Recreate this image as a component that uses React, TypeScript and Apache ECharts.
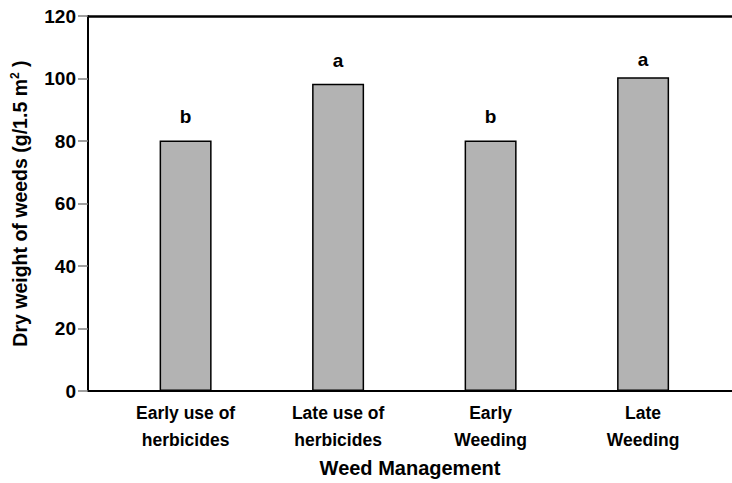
import React, { useEffect, useRef } from "react";
import * as echarts from "echarts";

const categories = ["Early use of\nherbicides", "Late use of\nherbicides", "Early\nWeeding", "Late\nWeeding"];
const positions = [1, 2, 3, 4];
const dryWeight = [80.2, 98.3, 80.2, 100.4];
const letters = ["b", "a", "b", "a"];
const yTicks = [0, 20, 40, 60, 80, 100, 120];

const FONT = "'Liberation Sans', Arial, sans-serif";

export default function App() {
  const ref = useRef<HTMLDivElement>(null);
  useEffect(() => {
    if (!ref.current) return;
    const chart = echarts.init(ref.current, null, { renderer: "svg" });
    const xMin = 0.36;
    const xMax = 4.583;
    chart.setOption({
      animation: false,
      backgroundColor: "#ffffff",
      textStyle: { fontFamily: FONT },
      grid: { left: 88, right: 0, top: 16, bottom: 91, containLabel: false },
      xAxis: [
        {
          type: "value",
          min: xMin,
          max: xMax,
          position: "bottom",
          name: "Weed Management",
          nameLocation: "middle",
          nameGap: 66,
          nameTextStyle: { fontFamily: FONT, fontSize: 20, fontWeight: "bold", color: "#000" },
          axisLine: { show: true, lineStyle: { color: "#000", width: 2 } },
          axisTick: { show: false },
          splitLine: { show: false },
          axisLabel: {
            customValues: positions,
            formatter: (v: number) => {
              const i = positions.indexOf(Math.round(v));
              return i >= 0 ? categories[i] : "";
            },
            fontFamily: FONT,
            fontSize: 17.5,
            fontWeight: "bold",
            color: "#000",
            lineHeight: 27,
            margin: 8,
          },
        },
        {
          type: "value",
          min: xMin,
          max: xMax,
          position: "top",
          axisLine: { show: true, onZero: false, lineStyle: { color: "#000", width: 2.5 } },
          axisTick: { show: false },
          axisLabel: { show: false },
          splitLine: { show: false },
        },
      ],
      yAxis: {
        type: "value",
        min: yTicks[0],
        max: yTicks[yTicks.length - 1],
        interval: 20,
        name: "Dry weight of weeds (g/1.5 m{sup|2} )",
        nameLocation: "middle",
        nameGap: 57,
        nameTextStyle: {
          fontFamily: FONT,
          fontSize: 19.5,
          fontWeight: "bold",
          color: "#000",
          rich: {
            sup: { fontFamily: FONT, fontSize: 12, fontWeight: "bold", color: "#000", verticalAlign: "top", lineHeight: 22, padding: [0, 0, 8, 0] },
          },
        },
        axisLine: { show: true, onZero: false, lineStyle: { color: "#000", width: 2 } },
        axisTick: { show: true, inside: false, length: 10, lineStyle: { color: "#7f7f7f", width: 1.5 } },
        axisLabel: { fontFamily: FONT, fontSize: 19, fontWeight: "bold", color: "#000", margin: 12 },
        splitLine: { show: false },
      },
      series: [
        {
          type: "bar",
          xAxisIndex: 0,
          barWidth: 52,
          data: positions.map((p, i) => ({
            value: [p, dryWeight[i]],
            label: { distance: i === 3 ? 8 : 14 },
          })),
          itemStyle: { color: "#b3b3b3", borderColor: "#000", borderWidth: 1.5 },
          label: {
            show: true,
            position: "top",
            formatter: (params: any) => letters[params.dataIndex],
            fontFamily: FONT,
            fontSize: 19,
            fontWeight: "bold",
            color: "#000",
          },
        },
      ],
    });
    return () => chart.dispose();
  }, []);
  return <div ref={ref} style={{ width: 732, height: 483, position: "absolute", left: 0, top: 0 }} />;
}
